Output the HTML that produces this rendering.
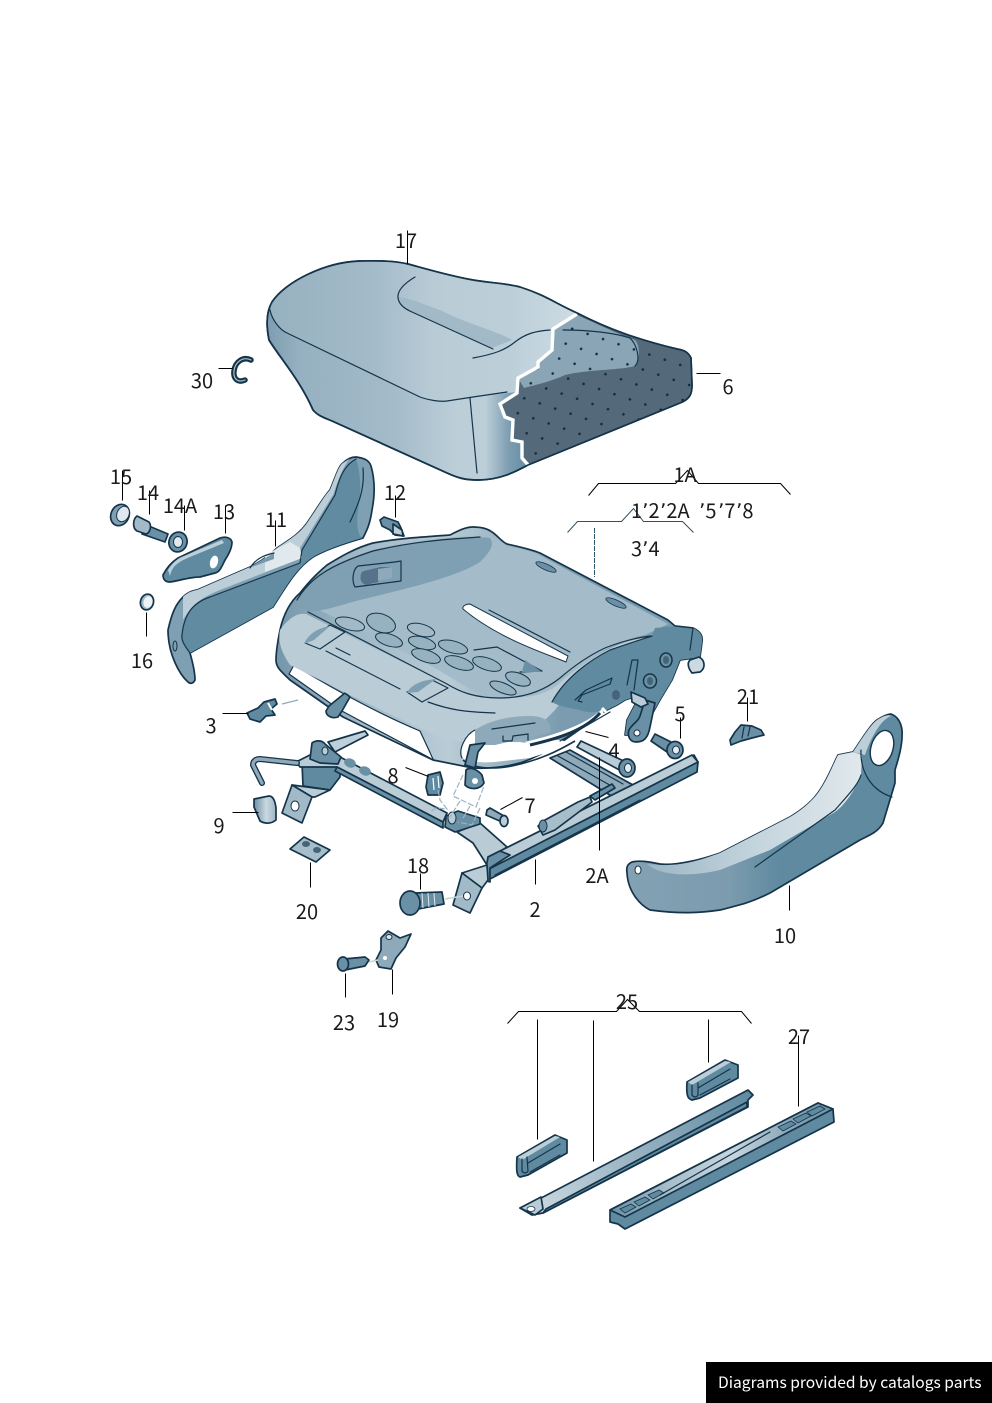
<!DOCTYPE html>
<html><head><meta charset="utf-8"><style>
html,body{margin:0;padding:0;background:#fff}
svg{display:block}
.p{stroke:#15344a;stroke-width:1.7;stroke-linejoin:round;stroke-linecap:round}
.t{fill:none;stroke:#15344a;stroke-width:1.2;stroke-linecap:round;stroke-linejoin:round}
.l{fill:none;stroke:#000;stroke-width:1}
text{font-family:"Noto Sans CJK JP","DejaVu Sans",sans-serif;font-size:20px;fill:#1a1a1a}
.m{text-anchor:middle}
</style></head><body>
<svg width="992" height="1403" viewBox="0 0 992 1403" xmlns="http://www.w3.org/2000/svg">
<defs>
<linearGradient id="cu" x1="267" x2="530" y1="0" y2="0" gradientUnits="userSpaceOnUse"><stop offset="0" stop-color="#7d9db0"/><stop offset=".12" stop-color="#95b0c0"/><stop offset=".5" stop-color="#a5bcca"/><stop offset=".72" stop-color="#bccfd9"/><stop offset=".83" stop-color="#bccfd9"/><stop offset=".92" stop-color="#7d9db1"/><stop offset="1" stop-color="#5f8ba2"/></linearGradient>
<linearGradient id="ct" x1="270" x2="570" y1="0" y2="0" gradientUnits="userSpaceOnUse"><stop offset="0" stop-color="#96b1c0"/><stop offset=".35" stop-color="#a4bbc9"/><stop offset=".55" stop-color="#b9ccd6"/><stop offset=".8" stop-color="#bccfd9"/><stop offset="1" stop-color="#ccdae2"/></linearGradient>
<linearGradient id="wl" x1="280" x2="560" y1="0" y2="0" gradientUnits="userSpaceOnUse"><stop offset="0" stop-color="#7797ab"/><stop offset=".25" stop-color="#9db6c5"/><stop offset=".6" stop-color="#b9ccd6"/><stop offset="1" stop-color="#7b9cb0"/></linearGradient>
<linearGradient id="a10" x1="630" x2="880" y1="0" y2="0" gradientUnits="userSpaceOnUse"><stop offset="0" stop-color="#83a1b3"/><stop offset=".4" stop-color="#7b9bae"/><stop offset=".6" stop-color="#5f8aa0"/><stop offset="1" stop-color="#5f8aa0"/></linearGradient>
<linearGradient id="s10" x1="650" x2="860" y1="0" y2="0" gradientUnits="userSpaceOnUse"><stop offset="0" stop-color="#9db6c5"/><stop offset=".5" stop-color="#c4d4dd"/><stop offset="1" stop-color="#e0e8ec"/></linearGradient>
<linearGradient id="st2" x1="520" x2="750" y1="1210" y2="1090" gradientUnits="userSpaceOnUse"><stop offset="0" stop-color="#cfdce3"/><stop offset=".45" stop-color="#9db6c5"/><stop offset="1" stop-color="#5f8aa0"/></linearGradient>
<linearGradient id="kn" x1="254" x2="276" y1="0" y2="0" gradientUnits="userSpaceOnUse"><stop offset="0" stop-color="#6a90a5"/><stop offset=".55" stop-color="#cad8e0"/><stop offset="1" stop-color="#9db6c5"/></linearGradient>
<linearGradient id="t27" x1="610" x2="834" y1="0" y2="0" gradientUnits="userSpaceOnUse"><stop offset="0" stop-color="#6a90a5"/><stop offset=".25" stop-color="#a6bdca"/><stop offset=".55" stop-color="#c7d6de"/><stop offset=".78" stop-color="#8eaaba"/><stop offset="1" stop-color="#6a90a5"/></linearGradient>
<pattern id="dk" width="24" height="22" patternUnits="userSpaceOnUse" patternTransform="rotate(-24)"><circle cx="5" cy="5" r="1.3" fill="#12293a"/><circle cx="17" cy="16" r="1.3" fill="#12293a"/></pattern>
</defs>

<!-- seat cushion 17 / 6 -->
<path class="p" fill="url(#cu)" d="M360 261C325 262 285 282 272 302C266 312 266 325 269 340C280 358 300 380 313 410C318 416 325 418 332 421L447 473C458 478 465 480 478 480C500 480 515 472 528 465L680 403C690 399 692 394 692 385L691 358C688 352 684 350 677 349C640 340 610 330 577 313C555 303 545 295 520 287C505 283 490 283 473 280C450 276 430 270 408 264C390 260 375 261 360 261Z"/>
<path fill="url(#ct)" d="M360 262C325 263 285 282 272 302L270 310C272 320 280 330 287 333L420 397C428 400 440 402 447 401L473 397L517 392L518 378L538 367L538 362L552 350L553 328L577 313C555 303 545 295 520 287C505 283 490 283 473 280C450 276 430 270 408 264C390 260 375 261 360 261Z"/>
<path class="t" d="M270 310C272 320 280 330 287 333L420 397C428 400 440 402 447 401L473 397L507 392"/>
<path fill="#a2bac8" d="M398 297C400 305 405 308 412 312L492 348L512 340C500 332 470 325 440 310C420 303 410 298 398 297Z"/>
<path class="t" d="M415 277C405 283 397 290 398 298C399 305 405 309 412 312L493 349"/>
<path class="t" d="M473 358C495 354 505 350 515 342C525 334 535 331 550 330"/>
<path class="t" d="M470 398L477 473"/>
<path fill="#54697a" d="M500 404L517 393L518 378L538 367L538 362L552 350L553 328L577 313C610 330 640 340 677 349C684 350 688 352 691 358L692 385C692 394 690 399 680 403L528 465L522 458L522 442L512 440L513 420L505 417Z"/>
<path fill="#8aa6b6" d="M524 388L518 378L538 367L538 362L552 350L553 328L577 315C600 325 620 335 635 340C640 345 640 360 636 365C630 370 590 369 565 375C550 382 535 385 524 388Z"/>
<path fill="url(#dk)" d="M500 404L517 393L518 378L538 367L538 362L552 350L553 328L577 313C610 330 640 340 677 349C684 350 688 352 691 358L692 385C692 394 690 399 680 403L528 465L522 458L522 442L512 440L513 420L505 417Z"/>
<path class="t" d="M563 330C590 330 615 333 630 338C637 345 641 360 635 366"/>
<path fill="none" stroke="#fff" stroke-width="3.4" stroke-linejoin="miter" d="M577 314L553 329L552 350L538 362L538 367L518 378L517 393L500 404L505 417L513 420L512 440L522 442L522 458L529 466"/>
<path class="p" fill="none" d="M360 261C325 262 285 282 272 302C266 312 266 325 269 340C280 358 300 380 313 410C318 416 325 418 332 421L447 473C458 478 465 480 478 480C500 480 515 472 528 465L680 403C690 399 692 394 692 385L691 358C688 352 684 350 677 349C640 340 610 330 577 313C555 303 545 295 520 287C505 283 490 283 473 280C450 276 430 270 408 264C390 260 375 261 360 261Z"/>
<!-- clip 30 -->
<path fill="none" stroke="#15344a" stroke-width="5.5" stroke-linecap="round" d="M251 360C243 356 235 362 234 371C233 379 238 383 245 380"/>
<path fill="none" stroke="#a9bfcb" stroke-width="1.2" stroke-linecap="round" d="M251 360C243 356 235 362 234 371C233 379 238 383 245 380"/>

<!-- left cover 11 -->
<path class="p" fill="#7f9fb2" d="M168 630C172 612 176 604 183 597C188 592 192 591 197 590L250 567C260 562 270 555 277 548C292 538 300 533 307 523C318 507 325 495 330 490C335 478 339 465 343 463C348 458 352 457 356 457C364 458 369 460 371 466C375 480 375 495 372 510C370 525 366 532 363 538C342 544 325 550 313 557C296 568 284 590 273 607L190 653C192 660 195 672 195 680C193 684 190 684 188 682C180 675 168 655 168 630Z"/>
<path fill="#608ba1" d="M182 635C184 615 192 603 210 597L300 563L302 550L335 495C340 475 345 465 356 459C360 470 362 490 358 510C356 525 358 535 362 538C342 544 325 550 313 557C296 568 284 590 273 607L190 653C184 645 181 640 182 635Z"/>
<path fill="#bccfd9" d="M183 597C188 592 192 591 197 590L250 567C260 562 270 555 277 548C292 538 300 533 307 523C318 507 325 495 330 490C335 478 339 465 343 463L349 459C340 472 335 490 333 495L300 548L302 558L220 590C200 598 192 605 183 620Z"/>
<path fill="#e2e9ee" d="M265 555L290 542L300 548L302 558L265 572Z"/>
<path fill="#7899ad" d="M250 567L274 553L274 559L249 568Z"/>
<path class="t" d="M182 635C184 615 192 603 210 597L300 563L302 550L335 495C340 475 345 465 356 459"/>
<path class="t" d="M190 653C184 645 181 640 182 635"/>
<path class="t" d="M350 522C358 505 365 490 363 468"/>
<path class="t" d="M250 568C256 558 265 555 274 553"/>
<ellipse cx="175" cy="646" rx="2" ry="5" fill="none" stroke="#15344a" stroke-width="1"/>

<!-- small parts top-left -->
<ellipse cx="120" cy="515" rx="9" ry="11" transform="rotate(25 120 515)" fill="#7f9fb2" class="p"/>
<ellipse cx="123" cy="514" rx="6" ry="8" transform="rotate(25 123 514)" fill="#dfe8ed" stroke="#15344a"/>
<path class="p" fill="#6a90a5" d="M144 524L168 534L165 542L142 534Z"/>
<path class="p" fill="#a2bac8" d="M137 516L149 522C152 526 150 533 146 534L137 531C132 528 133 519 137 516Z"/>
<ellipse cx="178" cy="542" rx="9" ry="10" transform="rotate(20 178 542)" class="p" fill="#6a90a5"/>
<ellipse cx="178" cy="542" rx="4.5" ry="5.5" fill="#dfe8ed" stroke="#15344a"/>
<path class="p" fill="#5f8aa0" d="M163 575C167 567 172 562 178 558L220 538C226 536 231 538 232 542C232 548 229 554 225 560C222 566 220 572 215 573L200 577C190 577 178 581 170 582C165 582 163 579 163 575Z"/>
<path fill="#bccfd9" d="M168 570C172 563 178 558 184 556L222 540L224 543L190 557C178 562 172 566 170 576Z"/>
<ellipse cx="214" cy="562" rx="4" ry="6.5" transform="rotate(15 214 562)" fill="#fff"/>
<ellipse cx="147" cy="602" rx="6.5" ry="8" transform="rotate(15 147 602)" class="p" fill="#9fb8c7"/>
<ellipse cx="148" cy="602" rx="4.5" ry="6" transform="rotate(15 148 602)" fill="#eef3f6"/>
<path class="p" fill="#6a90a5" d="M380 520L384 517L398 522L401 528L404 536L395 535L390 530L382 526Z"/>
<path class="p" fill="#bccfd9" d="M393 524L402 530L403 536L393 534Z"/>

<!-- seat frame -->
<path class="p" fill="url(#wl)" d="M280 630C284 612 292 600 300 593C312 578 320 571 327 565C340 557 355 548 373 543C400 538 425 537 450 535C458 531 465 527 473 527C482 527 488 529 492 532C498 536 502 542 507 544C520 547 530 549 540 553L668 620L675 626L693 628C700 631 703 636 702 642L700 657L680 660L672 680L660 700L646 725L642 735L625 735L627 720L640 695L625 700L617 705L607 710C590 722 575 733 560 743C545 752 535 758 520 763C505 767 490 769 473 768L433 760L343 717L290 680C282 672 276 668 276 660C276 650 278 640 280 630Z"/>
<path fill="#fff" d="M294 665L289 674L340 710L430 758L433 757L420 732L413 728C375 712 335 690 294 665Z"/>
<path class="t" d="M294 665L289 674L340 710L430 758M294 665C335 690 375 712 420 731L433 759"/>
<path class="p" fill="#6a90a5" d="M329 706L345 693L350 697L342 711L338 717C332 719 326 716 326 711Z"/>
<path fill="#a4bbc9" d="M297 600C312 578 330 565 373 550C410 540 460 535 490 536C500 540 505 546 510 547C525 549 535 552 545 558L668 624L645 635C610 642 590 660 565 678C548 696 530 698 497 698C475 696 455 678 420 660L340 620L300 601Z"/>
<path fill="#7f9fb2" d="M297 600C312 578 330 565 373 550C420 540 470 535 490 538C495 545 490 552 480 562C455 578 400 590 360 600C340 605 322 612 310 611C300 608 297 605 297 600Z"/>
<path class="t" d="M297 600C310 578 330 565 373 551C420 540 455 539 480 537"/>
<path fill="#bacdd7" d="M280 630C286 622 295 612 306 614L446 684C458 692 470 698 497 698C530 698 548 696 565 678C590 660 610 642 650 637L640 648L600 668L570 690L555 710L530 735C500 745 480 746 440 738L350 695L290 665C280 650 278 640 280 630Z"/>
<path class="t" d="M308 612L447 684C460 692 475 698 500 698C525 698 545 690 560 678C575 665 590 655 605 648C620 642 635 638 650 636"/>
<path fill="#5f8aa0" d="M552 702C565 678 590 660 610 650C630 643 645 640 652 636L655 628L675 626L693 628C700 631 703 636 702 642L700 657L680 660L672 680L660 700L646 725L642 735L625 735L627 720L640 695L625 700L617 705L607 710C596 712 590 714 580 710C568 708 558 706 552 702Z"/>
<path class="t" d="M552 702C565 678 590 660 610 650C630 643 640 640 652 636"/>
<path class="t" d="M675 626L693 628L690 650"/>
<!-- top details -->
<path class="t" d="M358 566C352 570 352 582 355 587L401 581L401 561L395 562Z" fill="#aac0cd"/>
<path fill="#56728a" d="M361 574C362 570 366 571 380 567L392 567L378 582L366 585C360 583 360 578 361 574Z"/>
<path fill="#8eaaba" d="M378 569L392 567L392 578L378 581Z"/>
<ellipse cx="350" cy="624" rx="15" ry="6" transform="rotate(15 350 624)" fill="#a2bac8" stroke="#15344a"/>
<ellipse cx="381" cy="623" rx="15" ry="9" transform="rotate(20 381 623)" fill="#96b1c0" stroke="#15344a"/>
<ellipse cx="421" cy="630" rx="14" ry="6" transform="rotate(15 421 630)" fill="#a2bac8" stroke="#15344a"/>
<ellipse cx="389" cy="640" rx="14" ry="6" transform="rotate(18 389 640)" fill="#96b1c0" stroke="#15344a"/>
<ellipse cx="422" cy="643" rx="14" ry="6" transform="rotate(15 422 643)" fill="#96b1c0" stroke="#15344a"/>
<ellipse cx="453" cy="647" rx="15" ry="6" transform="rotate(15 453 647)" fill="#96b1c0" stroke="#15344a"/>
<ellipse cx="426" cy="656" rx="15" ry="6" transform="rotate(18 426 656)" fill="#96b1c0" stroke="#15344a"/>
<ellipse cx="459" cy="663" rx="15" ry="6" transform="rotate(18 459 663)" fill="#96b1c0" stroke="#15344a"/>
<ellipse cx="487" cy="664" rx="15" ry="6" transform="rotate(18 487 664)" fill="#96b1c0" stroke="#15344a"/>
<ellipse cx="518" cy="679" rx="13" ry="6" transform="rotate(20 518 679)" fill="#96b1c0" stroke="#15344a"/>
<ellipse cx="503" cy="688" rx="14" ry="5" transform="rotate(22 503 688)" fill="#96b1c0" stroke="#15344a"/>
<path class="t" d="M474 650L497 647L542 671L520 672" fill="#a6bdca"/>
<path fill="#6a90a5" d="M525 660L542 672L522 672Z"/>
<path class="t" fill="#bdd0da" d="M305 643L330 625L345 632L320 649Z"/>
<path fill="#7f9fb2" d="M304 644C308 634 318 628 330 626L314 640Z"/>
<path class="t" fill="#bdd0da" d="M407 692L432 680L448 688L422 702Z"/>
<path fill="#7f9fb2" d="M407 693C410 686 420 680 436 679L418 692Z"/>
<path fill="#fff" stroke="#15344a" stroke-width="1" d="M463 609C462 606 466 604 470 604L568 656L566 662C550 655 500 640 463 609Z"/>
<path class="t" d="M489 610L570 652"/>
<path class="t" d="M326 651L400 689M336 648L350 655"/>
<path class="t" d="M428 702C450 710 465 712 495 713"/>
<ellipse cx="546" cy="567" rx="11" ry="3" transform="rotate(24 546 567)" fill="#6a90a5" stroke="#15344a" stroke-width=".8"/>
<ellipse cx="616" cy="603" rx="11" ry="3" transform="rotate(24 616 603)" fill="#6a90a5" stroke="#15344a" stroke-width=".8"/>
<!-- front right scoop -->
<path fill="#fff" d="M462 758C458 750 465 735 475 730C490 738 505 743 520 742C535 745 545 740 560 740L572 743L555 750L530 758L495 762C480 763 470 762 462 758Z"/>
<path class="t" d="M462 758C458 750 465 735 475 730"/>
<path fill="#8eaaba" d="M475 730C490 720 510 716 530 716C545 716 552 722 550 733L530 737L495 745L475 745Z"/>
<path class="t" d="M492 729L535 723M503 736L503 741L512 741L513 736L528 734L528 740"/>
<path fill="#fff" d="M525 742C550 736 585 726 602 709L604 714C590 728 565 738 530 745Z"/>
<path d="M530 745C560 738 585 730 600 713" fill="none" stroke="#15344a" stroke-width="3"/>
<path d="M602 708L606 712" stroke="#fff" stroke-width="3"/>
<path class="t" d="M560 741L610 712"/>
<path d="M463 760C472 768 490 770 512 766C540 760 558 751 575 741" fill="none" stroke="#15344a" stroke-width="1.6"/>
<!-- bracket side details -->
<path class="t" d="M575 700L586 690L612 678L610 684L582 695L578 701L582 702"/>
<ellipse cx="616" cy="695" rx="4" ry="5" fill="#456478"/>
<path class="t" d="M627 685L632 660L638 660L634 690"/>
<ellipse cx="650" cy="681" rx="6.5" ry="7" fill="#6a90a5" stroke="#15344a" stroke-width="1.5"/>
<ellipse cx="650" cy="681" rx="3" ry="4" fill="#456478"/>
<ellipse cx="666" cy="660" rx="6" ry="7" fill="#6a90a5" stroke="#15344a" stroke-width="1.5"/>
<ellipse cx="666" cy="660" rx="3" ry="4" fill="#456478"/>
<path class="p" fill="#cbd9e0" d="M690 660L699 657C705 660 706 668 700 672L692 673C688 668 687 663 690 660Z"/>
<path class="p" fill="#6a90a5" d="M645 700L655 703L650 727C648 738 644 742 636 742C630 742 627 736 629 730C632 724 638 722 640 716Z"/>
<path class="p" fill="#bacdd7" d="M631 692L645 698L648 704L641 707L632 702Z"/>
<circle cx="637" cy="733" r="3" fill="#fff" stroke="#15344a"/>
<!-- clip 3 -->
<path class="p" fill="#5f8aa0" d="M247 713L258 708L264 702L275 699L277 704L271 709L275 715L266 716L260 722L250 719Z"/>
<path d="M268 703L272 710" stroke="#fff" stroke-width="2"/>
<path d="M282 704L298 700" stroke="#8eaaba" stroke-width="1.2"/>
<!-- 21 -->
<path class="p" fill="#6a90a5" d="M735 732L741 725L752 726L761 730L764 735L752 738L741 741L731 745L730 740Z"/>
<path class="t" d="M744 727L742 738M750 727L748 736"/>

<!-- rails -->
<path class="p" fill="#8eaaba" d="M550 758L570 750L633 785L613 797Z"/>
<path class="t" d="M558 756L615 788M566 752L623 784"/>
<path class="p" fill="#bdd0da" d="M328 742L365 731L368 735L335 752Z"/>
<path class="p" fill="#5f8aa0" d="M302 763L340 766L340 777L330 790L303 786Z"/>
<path class="p" fill="#bacdd7" d="M296 762L312 754L340 757L447 813L443 822L337 767L300 767Z"/>
<path class="p" fill="#6a90a5" d="M337 767L443 822L443 828L335 771Z"/>
<path class="p" fill="#6a90a5" d="M312 743C316 740 322 740 325 744L341 757L338 764L320 763L310 759Z"/>
<ellipse cx="325" cy="751" rx="3" ry="4" fill="#bacdd7" stroke="#15344a"/>
<ellipse cx="350" cy="763" rx="6" ry="4.5" transform="rotate(20 350 763)" fill="#6a90a5"/>
<ellipse cx="365" cy="771" rx="6" ry="4.5" transform="rotate(20 365 771)" fill="#6a90a5"/>
<path d="M262 783L253 765C253 761 256 759 260 759L297 763" fill="none" stroke="#15344a" stroke-width="6" stroke-linecap="round"/>
<path d="M262 783L253 765C253 761 256 759 260 759L297 763" fill="none" stroke="#8eaaba" stroke-width="3.4" stroke-linecap="round"/>
<path class="p" fill="#bacdd7" d="M292 785L330 790L315 797L312 797Z"/>
<path class="p" fill="#a2bac8" d="M292 785L312 797L302 823L282 813Z"/>
<ellipse cx="295" cy="806" rx="4" ry="5" fill="#fff" stroke="#15344a"/>
<path class="p" fill="url(#kn)" d="M254 799L269 796C273 796 275 800 276 808L276 820C270 825 263 823 260 821L254 807Z"/>
<path class="p" fill="#a6bdca" d="M290 849L304 837L330 850L316 862Z"/>
<ellipse cx="306" cy="844" rx="4" ry="3" fill="#456478"/><ellipse cx="317" cy="850" rx="4" ry="3" fill="#456478"/>
<!-- rail mid joint -->
<path class="p" fill="#b9ccd6" d="M480 823L507 847L488 860L487 865L473 843L457 832Z"/>
<path class="p" fill="#6a90a5" d="M446 816L458 811L480 818L480 824L455 832L445 827Z"/>
<ellipse cx="452" cy="818" rx="4" ry="6" fill="#bacdd7" stroke="#15344a"/>
<!-- right rail -->
<path class="p" fill="#5f8aa0" d="M488 863L694 755L698 762L697 772L488 880Z"/>
<path class="p" fill="#bacdd7" d="M488 857L692 755L698 762L491 868Z"/>
<path class="t" d="M495 875L640 800"/>
<path class="p" fill="#6a90a5" d="M488 857L500 851L510 855L490 868L490 882L484 880Z"/>
<path class="p" fill="#bacdd7" d="M462 873L487 865L488 880L482 888Z"/>
<path class="p" fill="#a2bac8" d="M462 873L482 888L470 913L453 905Z"/>
<ellipse cx="467" cy="896" rx="3.5" ry="4" fill="#fff" stroke="#15344a"/>
<!-- actuator -->
<path class="p" fill="#a6bdca" d="M545 820L578 802L590 797L592 802L555 830L543 835L538 826Z"/>
<ellipse cx="543" cy="826" rx="4" ry="6" fill="#6a90a5" stroke="#15344a"/>
<path class="p" fill="#6a90a5" d="M590 796L595 800L615 788L612 784Z"/>
<path class="p" fill="#bacdd7" d="M577 747L581 741L628 763L625 773Z"/>
<ellipse cx="627" cy="768" rx="8" ry="9" class="p" fill="#6a90a5"/><ellipse cx="628" cy="768" rx="3.5" ry="4.5" fill="#e6edf1" stroke="#15344a"/>
<!-- bolts -->
<path class="p" fill="#6a90a5" d="M651 741L655 734L675 744L670 754Z"/>
<ellipse cx="675" cy="750" rx="8" ry="8.5" class="p" fill="#6a90a5"/><ellipse cx="676" cy="750" rx="3.5" ry="4" fill="#e6edf1" stroke="#15344a"/>
<path class="p" fill="#8eaaba" d="M487 810L490 808L504 816L502 822L486 815Z"/>
<ellipse cx="504" cy="821" rx="4" ry="5.5" class="p" fill="#bacdd7"/>
<path class="p" fill="#5f8aa0" d="M428 775L440 772L443 783L440 795L428 795L426 787Z"/>
<path d="M433 778L434 790M438 776L439 788" stroke="#fff" stroke-width="1.2"/>
<path fill="#6a90a5" class="p" d="M466 770C470 766 478 770 482 775L484 783C480 790 470 790 465 785Z"/>
<circle cx="475" cy="781" r="3" fill="#fff"/>
<path fill="#6a90a5" class="p" d="M465 765L470 745L485 743L478 752L475 768Z"/>
<g fill="none" stroke="#9cb4c2" stroke-width="1.2" stroke-dasharray="6 2">
<path d="M438 790L440 800L447 809L436 808L430 812"/>
<path d="M463 775L453 796L476 807L484 786"/>
<path d="M460 801L450 817M470 806L462 820M480 808L472 825L458 822"/>
</g>
<!-- bolt 18 -->
<path class="p" fill="#6a90a5" d="M415 893L442 892L444 904L418 909Z"/>
<path d="M422 893L423 908M428 893L429 907M434 893L435 906" stroke="#dfe8ed" stroke-width="1"/>
<ellipse cx="410" cy="903" rx="10" ry="12" class="p" fill="#6a90a5"/>
<path d="M445 899L463 896" stroke="#c4d4dd" stroke-width="1.5"/>
<!-- bracket 19 + screw 23 -->
<path class="p" fill="#8eaaba" d="M381 938L388 931L400 938L411 934L405 947L396 958L391 969L379 967L376 960L381 950Z"/>
<ellipse cx="389" cy="937" rx="3" ry="2.5" fill="#dfe8ed" stroke="#15344a"/>
<circle cx="385" cy="958" r="2" fill="#fff"/>
<path class="p" fill="#6a90a5" d="M344 959L365 957L369 960L365 966L345 970Z"/>
<ellipse cx="343" cy="964" rx="5.5" ry="7" class="p" fill="#6a90a5"/>
<path d="M369 962L378 960" stroke="#c4d4dd" stroke-width="1.5"/>

<!-- cover 10 -->
<path class="p" fill="url(#a10)" d="M627 873C626 866 628 864 632 862C640 860 650 862 660 864C675 866 700 860 720 853L790 817C805 808 815 798 820 790C828 778 833 765 838 755L853 752C860 742 870 725 877 720C883 716 888 714 891 714C897 716 901 722 902 730C903 745 898 760 895 770L895 783L883 823C878 832 870 835 860 840L770 893C750 903 740 905 720 910C700 913 680 914 650 910C640 905 628 892 627 873Z"/>
<path fill="url(#s10)" d="M647 864C680 868 700 860 720 853L790 817C805 808 815 798 820 790C828 778 833 765 838 755L853 752L862 755L861 775C855 790 845 805 835 812L770 850L720 870C690 877 660 876 647 864Z"/>
<path fill="#bccfd9" d="M853 752C860 742 870 725 877 720C883 716 888 714 891 716C880 720 870 740 865 755Z"/>
<ellipse cx="882" cy="748" rx="11" ry="18" transform="rotate(17 882 748)" fill="#fff" stroke="#15344a" stroke-width="1.4"/>
<ellipse cx="638" cy="870" rx="3" ry="4" fill="#fff" stroke="#15344a"/>
<path class="t" d="M755 867L835 810C848 795 858 785 861 775"/>
<path class="t" d="M861 750C860 770 870 790 892 797"/>

<!-- parts 25 / 27 -->
<path class="p" fill="url(#st2)" d="M520 1208L531 1203L543 1197L748 1090L753 1095L748 1100L748 1107L543 1213L532 1215Z"/>
<path class="p" fill="#5f8aa0" d="M546 1209L747 1102L747 1107L543 1213Z"/>
<path class="p" fill="#bacdd7" d="M520 1208L541 1197L543 1209L535 1215Z"/>
<ellipse cx="531" cy="1209" rx="4" ry="2.5" fill="#fff" stroke="#15344a" stroke-width=".8"/>
<path class="p" fill="#5f8aa0" d="M517 1157L555 1135L567 1140L567 1153L528 1175L520 1177C517 1176 516 1172 517 1157Z"/>
<path fill="#bccfd9" d="M518 1157L555 1136L560 1137L522 1160Z"/>
<path class="t" d="M522 1159L522 1171C524 1174 527 1173 528 1171L527 1157M528 1163L560 1144M530 1172L560 1155"/>
<path class="p" fill="#5f8aa0" d="M687 1082L725 1060L738 1065L738 1078L700 1098L692 1100C688 1099 686 1096 687 1082Z"/>
<path fill="#bccfd9" d="M688 1082L725 1061L731 1062L692 1085Z"/>
<path class="t" d="M692 1085L692 1095C694 1098 697 1097 698 1095L698 1083M698 1088L730 1069M700 1095L730 1079"/>
<path class="p" fill="#5f8aa0" d="M610 1210L818 1103L833 1109L834 1122L625 1229L618 1224L610 1222Z"/>
<path class="p" fill="url(#t27)" d="M610 1210L818 1103L833 1109L625 1217Z"/>
<g fill="#5f8aa0" stroke="#15344a" stroke-width=".8">
<path d="M620 1209L631 1204L636 1207L625 1213Z"/><path d="M634 1202L645 1197L650 1200L639 1206Z"/><path d="M648 1195L659 1190L664 1193L653 1199Z"/>
<path d="M778 1127L791 1121L796 1124L783 1131Z"/><path d="M793 1119L806 1113L811 1116L798 1123Z"/><path d="M807 1112L820 1106L825 1109L812 1116Z"/>
</g>
<path class="t" d="M660 1195L770 1132"/>

<!-- leaders -->
<g class="l" transform="translate(.5 .5)">
<path d="M407 230V264M218 368H232M696 373H720M122 470V500M149 490V514M184 505V530M225 505V533M275 520V546M395 495V517M146 612V636M222 713H248M747 697V721M680 717V738M585 731L608 737M405 767L428 776M500 809L522 797M232 812H258M420 873V889M599 757V850M535 859V884M310 862V887M789 885V910M345 973V997M392 969V994M537 1019V1139M593 1020V1161M708 1019V1062M798 1035V1106"/>
<path d="M507 1023L518 1011H616L627 999L639 1011H741L751 1023"/>
<path d="M588 495L598 483H675L687 470L698 483H780L790 494"/>
<path d="M567 532L577 521H621L633 508L643 521H682L693 532" stroke="#2f5266"/>
</g>
<path d="M594.5 528V577" stroke="#2f5266" stroke-width="1" stroke-dasharray="5 1" fill="none"/>

<!-- labels -->
<text class="m" x="406" y="248">17</text>
<text class="m" x="202" y="388">30</text>
<text class="m" x="728" y="394">6</text>
<text class="m" x="685" y="482">1A</text>
<text x="631" y="518">1ʼ2</text><text x="660" y="518">ʼ2A</text>
<text x="699" y="518">ʼ5</text><text x="718" y="518">ʼ7</text><text x="736" y="518">ʼ8</text>
<text x="631" y="556">3ʼ4</text>
<text class="m" x="121" y="484">15</text>
<text class="m" x="148" y="500">14</text>
<text class="m" x="180" y="513">14A</text>
<text class="m" x="224" y="519">13</text>
<text class="m" x="276" y="527">11</text>
<text class="m" x="395" y="500">12</text>
<text class="m" x="142" y="668">16</text>
<text class="m" x="211" y="733">3</text>
<text class="m" x="748" y="704">21</text>
<text class="m" x="680" y="721">5</text>
<text class="m" x="614" y="758">4</text>
<text class="m" x="393" y="783">8</text>
<text class="m" x="530" y="813">7</text>
<text class="m" x="219" y="833">9</text>
<text class="m" x="418" y="873">18</text>
<text class="m" x="597" y="883">2A</text>
<text class="m" x="535" y="917">2</text>
<text class="m" x="307" y="919">20</text>
<text class="m" x="785" y="943">10</text>
<text class="m" x="344" y="1030">23</text>
<text class="m" x="388" y="1027">19</text>
<text class="m" x="627" y="1009">25</text>
<text class="m" x="799" y="1044">27</text>

<rect x="706" y="1362" width="286" height="41" fill="#000"/>
<text x="718" y="1388" style="font-size:15.6px;fill:#fff">Diagrams provided by catalogs parts</text>
</svg>
</body></html>
